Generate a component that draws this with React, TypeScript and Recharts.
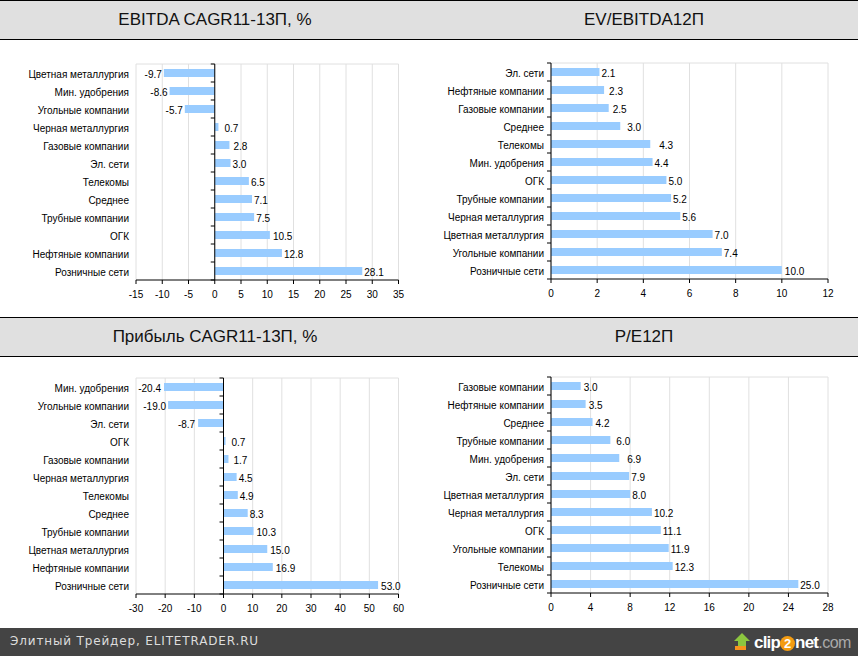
import { Bar, BarChart, CartesianGrid, LabelList, ReferenceLine, XAxis, YAxis } from "recharts";

const ebitdaCategories = ["Цветная металлургия", "Мин. удобрения", "Угольные компании", "Черная металлургия", "Газовые компании", "Эл. сети", "Телекомы", "Среднее", "Трубные компании", "ОГК", "Нефтяные компании", "Розничные сети"];
const ebitdaValues = [-9.7, -8.6, -5.7, 0.7, 2.8, 3.0, 6.5, 7.1, 7.5, 10.5, 12.8, 28.1];
const ebitdaTicks = [-15, -10, -5, 0, 5, 10, 15, 20, 25, 30, 35];
const ebitdaLabelGaps = [2, 2, 2, 6, 4, 2, 2, 2, 2, 3, 2, 2];

const evCategories = ["Эл. сети", "Нефтяные компании", "Газовые компании", "Среднее", "Телекомы", "Мин. удобрения", "ОГК", "Трубные компании", "Черная металлургия", "Цветная металлургия", "Угольные компании", "Розничные сети"];
const evValues = [2.1, 2.3, 2.5, 3.0, 4.3, 4.4, 5.0, 5.2, 5.6, 7.0, 7.4, 10.0];
const evTicks = [0, 2, 4, 6, 8, 10, 12];
const evLabelGaps = [2, 5, 4, 7, 9, 2, 2, 2, 2, 2, 2, 3];

const profitCategories = ["Мин. удобрения", "Угольные компании", "Эл. сети", "ОГК", "Газовые компании", "Черная металлургия", "Телекомы", "Среднее", "Трубные компании", "Цветная металлургия", "Нефтяные компании", "Розничные сети"];
const profitValues = [-20.4, -19.0, -8.7, 0.7, 1.7, 4.5, 4.9, 8.3, 10.3, 15.0, 16.9, 53.0];
const profitTicks = [-30, -20, -10, 0, 10, 20, 30, 40, 50, 60];
const profitLabelGaps = [3, 2, 3, 6, 5, 2, 2, 2, 3, 3, 3, 3];

const peCategories = ["Газовые компании", "Нефтяные компании", "Среднее", "Трубные компании", "Мин. удобрения", "Эл. сети", "Цветная металлургия", "Черная металлургия", "ОГК", "Угольные компании", "Телекомы", "Розничные сети"];
const peValues = [3.0, 3.5, 4.2, 6.0, 6.9, 7.9, 8.0, 10.2, 11.1, 11.9, 12.3, 25.0];
const peTicks = [0, 4, 8, 12, 16, 20, 24, 28];
const peLabelGaps = [3, 3, 3, 6, 8, 2, 2, 2, 2, 2, 2, 2];

const FONT = "'Liberation Sans', Arial, sans-serif";
const PLOT_HEIGHT = 216;

type PanelProps = {
  title: string;
  categories: string[];
  values: number[];
  ticks: number[];
  labelGaps: number[];
  left: number;
  top: number;
  plotLeft: number;
  plotTop: number;
  plotWidth: number;
};

const Panel = ({ title, categories, values, ticks, labelGaps, left, top, plotLeft, plotTop, plotWidth }: PanelProps) => {
  const data = categories.map((name, i) => ({ name, value: values[i] }));
  const min = ticks[0];
  const max = ticks[ticks.length - 1];
  const zeroX = plotLeft + ((Math.max(min, 0) - min) / (max - min)) * plotWidth;
  const band = PLOT_HEIGHT / categories.length;

  // plain text tick (the default one wraps long names), plus the separator marks on the zero line
  const CategoryTick = ({ x, y, payload, index }: any) => (
    <g>
      <text x={x} y={y} dy="0.45em" textAnchor="end" fontSize={10} fontFamily={FONT} fill="#000">
        {payload.value}
      </text>
      <line x1={zeroX - 4} x2={zeroX} y1={y - band / 2} y2={y - band / 2} stroke="#000" />
      {index === categories.length - 1 && (
        <line x1={zeroX - 4} x2={zeroX} y1={y + band / 2} y2={y + band / 2} stroke="#000" />
      )}
    </g>
  );

  const ValueLabel = ({ x, y, width, height, value, index }: any) => {
    const negative = value < 0;
    const gap = labelGaps[index];
    return (
      <text
        x={negative ? x + width - gap : x + width + gap}
        y={y + height / 2}
        dy="0.45em"
        textAnchor={negative ? "end" : "start"}
        fontSize={10}
        fontFamily={FONT}
        fill="#000"
      >
        {Number(value).toFixed(1)}
      </text>
    );
  };

  return (
    <>
      <div
        style={{
          position: "absolute",
          left,
          top,
          width: 429,
          height: 38,
          background: "#e0e0e0",
          borderTop: "1px solid #000",
          borderBottom: "1px solid #000",
          textAlign: "center",
          textIndent: 1,
          lineHeight: "38px",
          fontFamily: FONT,
          fontSize: 17,
          color: "#111",
        }}
      >
        {title}
      </div>
      <div style={{ position: "absolute", left, top: top + 40 }}>
        <BarChart
          width={429}
          height={plotTop + PLOT_HEIGHT + 30}
          data={data}
          layout="vertical"
          margin={{ top: plotTop, right: 429 - plotLeft - plotWidth, bottom: 0, left: 0 }}
        >
          <CartesianGrid horizontalPoints={[plotTop]} stroke="#e0e0e0" />
          <XAxis
            type="number"
            domain={[min, max]}
            ticks={ticks}
            interval={0}
            height={30}
            stroke="#000"
            tickSize={4}
            tickMargin={7}
            tick={{ fontSize: 10, fill: "#000", fontFamily: FONT }}
          />
          <YAxis
            type="category"
            dataKey="name"
            width={plotLeft}
            interval={0}
            axisLine={false}
            tickLine={false}
            tickMargin={1}
            tick={<CategoryTick />}
          />
          <Bar dataKey="value" fill="#99ccff" barSize={8} isAnimationActive={false}>
            <LabelList dataKey="value" content={<ValueLabel />} />
          </Bar>
          <ReferenceLine x={0} stroke="#000" />
        </BarChart>
      </div>
    </>
  );
};

const App = () => {
  return (
    <div style={{ position: "absolute", left: 0, top: 0, width: 858, height: 656, background: "#fff", overflow: "hidden" }}>
      <Panel title="EBITDA CAGR11-13П, %" categories={ebitdaCategories} values={ebitdaValues} ticks={ebitdaTicks} labelGaps={ebitdaLabelGaps} left={0} top={0} plotLeft={136} plotTop={24} plotWidth={262.5} />
      <Panel title="EV/EBITDA12П" categories={evCategories} values={evValues} ticks={evTicks} labelGaps={evLabelGaps} left={429} top={0} plotLeft={122} plotTop={23} plotWidth={277} />
      <Panel title="Прибыль CAGR11-13П, %" categories={profitCategories} values={profitValues} ticks={profitTicks} labelGaps={profitLabelGaps} left={0} top={317} plotLeft={136} plotTop={21} plotWidth={262.5} />
      <Panel title="P/E12П" categories={peCategories} values={peValues} ticks={peTicks} labelGaps={peLabelGaps} left={429} top={317} plotLeft={122} plotTop={20} plotWidth={277} />
      <div
        style={{
          position: "absolute",
          left: 0,
          top: 628,
          width: 858,
          height: 28,
          background: "#444444",
          color: "#dddddd",
          fontFamily: "'DejaVu Sans', sans-serif",
          fontSize: 12,
          letterSpacing: 0.85,
          lineHeight: "27px",
          paddingLeft: 10,
          boxSizing: "border-box",
        }}
      >
        Элитный Трейдер, ELITETRADER.RU
        <svg width={18} height={20} style={{ position: "absolute", left: 733, top: 5 }}>
          <path d="M9 0 L17 8 L13 8 L13 13 L5 13 L5 8 L1 8 Z" fill="#8cc63f" />
          <rect x={2} y={13} width={11} height={4} fill="#f7941d" />
        </svg>
        <span
          style={{
            position: "absolute",
            left: 754,
            top: 1,
            fontFamily: FONT,
            fontSize: 17,
            fontWeight: 700,
            letterSpacing: -0.8,
            color: "#fff",
          }}
        >
          clip
          <span
            style={{
              display: "inline-block",
              width: 15,
              height: 15,
              lineHeight: "15px",
              textAlign: "center",
              fontSize: 13,
              letterSpacing: 0,
              borderRadius: "50%",
              background: "#f39c12",
            }}
          >
            2
          </span>
          net<span style={{ color: "#aaa", fontWeight: 400, fontSize: 16, letterSpacing: -0.5 }}>.com</span>
        </span>
      </div>
    </div>
  );
};

export default App;
